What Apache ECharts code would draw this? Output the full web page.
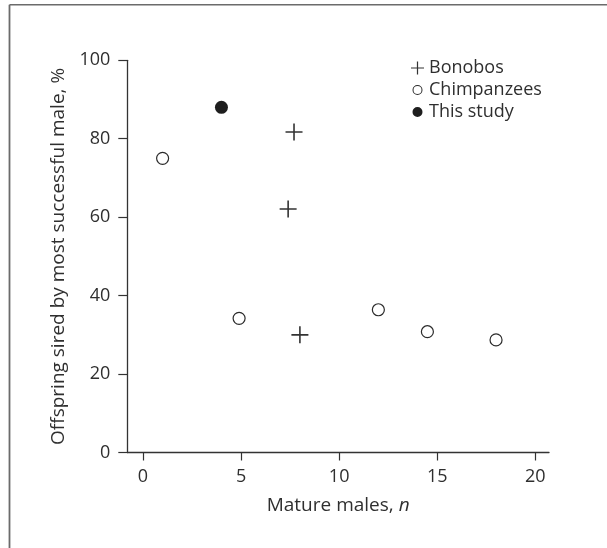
<!DOCTYPE html>
<html>
<head>
<meta charset="utf-8">
<script src="https://cdn.jsdelivr.net/npm/echarts@6/dist/echarts.min.js"></script>
<style>
  html, body { margin: 0; padding: 0; background: #fff; }
  #chart { width: 607px; height: 548px; }
</style>
</head>
<body>
<div id="chart"></div>
<script>
// ---- Data ----
const bonobosX = [7.7, 7.4, 8.0];
const bonobosY = [81.7, 62.1, 30.0];
const chimpX = [1.0, 4.9, 12.0, 14.5, 18.0];
const chimpY = [75.0, 34.2, 36.4, 30.8, 28.7];
const studyX = [4.0];
const studyY = [88.0];
const xTicks = [0, 5, 10, 15, 20];
const yTicks = [0, 20, 40, 60, 80, 100];
const seriesNames = ['Bonobos', 'Chimpanzees', 'This study'];

const pairs = (xs, ys) => xs.map((x, i) => [x, ys[i]]);
const FONT = 'Open Sans';
const INK = '#2f2f2f';
const PLUS = 'path://M7.25,0h1.5v7.25h7.25v1.5h-7.25v7.25h-1.5v-7.25h-7.25v-1.5h7.25z';
const CORNERS = 'M0,0h0.01v0.01h-0.01zM12.99,12.99h0.01v0.01h-0.01z';
const LEG_RING = 'path://M6.5,1.5a5,5 0 1,0 0,10a5,5 0 1,0 0,-10zM6.5,2.5a4,4 0 1,1 0,8a4,4 0 1,1 0,-8z' + CORNERS;
const LEG_DOT = 'path://M6.5,1.5a5,5 0 1,1 0,10a5,5 0 1,1 0,-10z' + CORNERS;

const chart = echarts.init(document.getElementById('chart'), null, { renderer: 'canvas' });
chart.setOption({
  backgroundColor: '#ffffff',
  animation: false,
  textStyle: { fontFamily: FONT, color: INK },
  grid: { left: 127.3, top: 60.3, right: 58, bottom: 95.5, containLabel: false },
  graphic: [
    { type: 'line', shape: { x1: 9.5, y1: 4.7, x2: 607, y2: 4.7 }, style: { stroke: '#6b6b6b', lineWidth: 1.6 } },
    { type: 'line', shape: { x1: 9.5, y1: 4.7, x2: 9.5, y2: 548 }, style: { stroke: '#6b6b6b', lineWidth: 1.8 } }
  ],
  legend: {
    orient: 'vertical',
    left: 406,
    top: 54,
    padding: 5,
    itemWidth: 13,
    itemHeight: 13,
    itemGap: 4,
    textStyle: { fontFamily: FONT, fontSize: 18, color: INK, lineHeight: 18 },
    data: [
      { name: seriesNames[0], icon: PLUS },
      { name: seriesNames[1], icon: LEG_RING, itemStyle: { color: '#2b2b2b', borderWidth: 0 } },
      { name: seriesNames[2], icon: LEG_DOT }
    ]
  },
  xAxis: {
    type: 'value',
    min: -0.8,
    max: 20.7,
    name: 'Mature males, {i|n}',
    nameLocation: 'middle',
    nameGap: 44,
    nameTextStyle: { fontFamily: FONT, fontSize: 19, color: INK, rich: { i: { fontStyle: 'italic', fontFamily: FONT, fontSize: 19, color: INK } } },
    axisLine: { show: true, onZero: false, lineStyle: { color: '#333', width: 1.3 } },
    axisTick: { show: true, length: 8, customValues: xTicks, lineStyle: { color: '#333', width: 1.2 } },
    axisLabel: { customValues: xTicks, margin: 15, fontFamily: FONT, fontSize: 18, color: INK },
    splitLine: { show: false }
  },
  yAxis: {
    type: 'value',
    min: 0,
    max: 100,
    interval: 20,
    name: 'Offspring sired by most successful male, %',
    nameLocation: 'middle',
    nameGap: 59,
    nameTextStyle: { fontFamily: FONT, fontSize: 19, color: INK },
    axisLine: { show: true, onZero: false, lineStyle: { color: '#333', width: 1.3 } },
    axisTick: { show: true, length: 9, customValues: yTicks, lineStyle: { color: '#333', width: 1.2 } },
    axisLabel: { customValues: yTicks, margin: 17, fontFamily: FONT, fontSize: 18, color: INK },
    splitLine: { show: false }
  },
  series: [
    {
      name: seriesNames[0],
      type: 'scatter',
      symbol: PLUS,
      symbolSize: 17,
      itemStyle: { color: '#333', opacity: 1 },
      data: pairs(bonobosX, bonobosY)
    },
    {
      name: seriesNames[1],
      type: 'scatter',
      symbol: 'circle',
      symbolSize: 12,
      itemStyle: { color: '#ffffff', borderColor: '#2b2b2b', borderWidth: 1.2, opacity: 1 },
      data: pairs(chimpX, chimpY)
    },
    {
      name: seriesNames[2],
      type: 'scatter',
      symbol: 'circle',
      symbolSize: 13,
      itemStyle: { color: '#1e1e1e', opacity: 1 },
      data: pairs(studyX, studyY)
    }
  ]
});
</script>
</body>
</html>
